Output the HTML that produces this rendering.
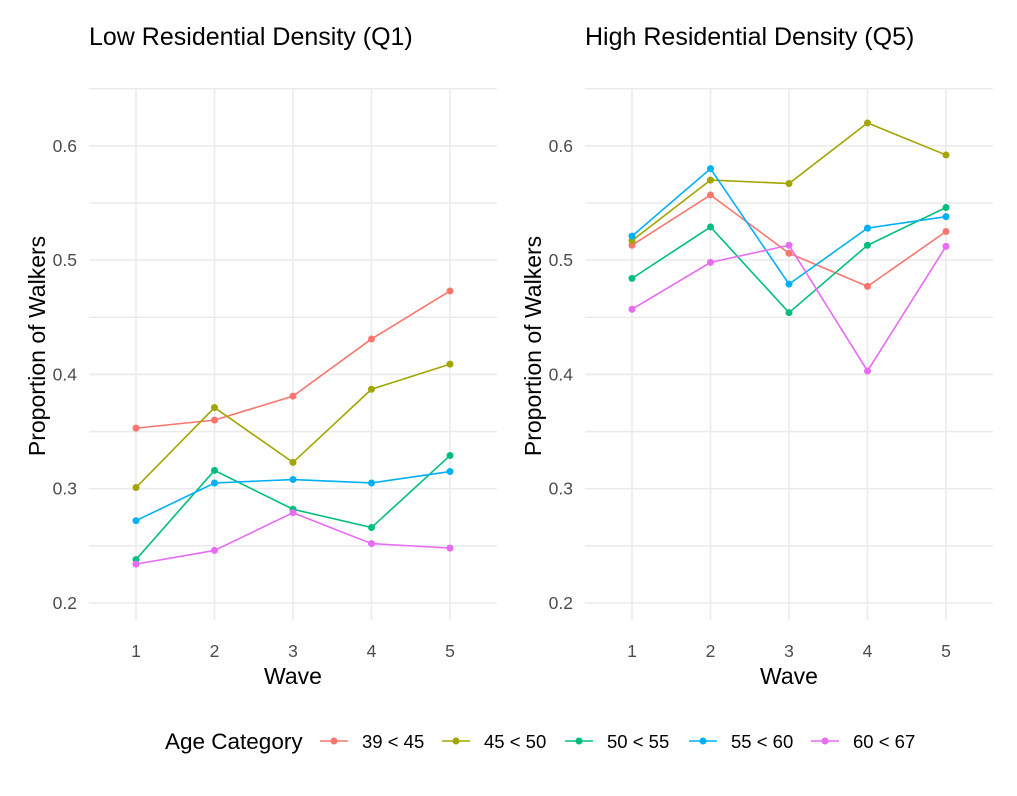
<!DOCTYPE html>
<html><head><meta charset="utf-8"><style>
body{margin:0;background:#fff;font-family:"Liberation Sans",sans-serif}
svg text{font-family:"Liberation Sans",sans-serif}
</style></head><body>
<svg id="c" width="1017" height="791" xmlns="http://www.w3.org/2000/svg"></svg>
<script>
const waves=[1,2,3,4,5];
const groups=["39 < 45","45 < 50","50 < 55","55 < 60","60 < 67"];
const colors=["#F8766D","#A3A500","#00BF7D","#00B0F6","#E76BF3"];
const yTicks=[0.2,0.3,0.4,0.5,0.6];
const lowQ1=[
 [0.353,0.360,0.381,0.431,0.473],
 [0.301,0.371,0.323,0.387,0.409],
 [0.238,0.316,0.282,0.266,0.329],
 [0.272,0.305,0.308,0.305,0.315],
 [0.234,0.246,0.279,0.252,0.248]];
const highQ5=[
 [0.513,0.557,0.506,0.477,0.525],
 [0.517,0.570,0.567,0.620,0.592],
 [0.484,0.529,0.454,0.513,0.546],
 [0.521,0.580,0.479,0.528,0.538],
 [0.457,0.498,0.513,0.403,0.512]];
const svg=document.getElementById('c');
const NS="http://www.w3.org/2000/svg";
function mk(t,a,p){const e=document.createElementNS(NS,t);for(const k in a)e.setAttribute(k,a[k]);(p||svg).appendChild(e);return e;}
const yS=v=>603-(v-0.2)*1143;
function panel(x0,title,data,key){
  const g=mk('g',{});
  
  
  const xS=w=>x0+47+(w-1)*78.5;
  const L=x0, R=x0+408, T=88, B=620;
  for(let k=0;k<=9;k++){const v=0.2+k*0.05;const y=yS(v);if(y>=T-2&&y<=B)mk('line',{x1:L,x2:R,y1:y,y2:y,stroke:'#ebebeb','stroke-width':1.6},g);}
  mk('line',{x1:L,x2:R,y1:yS(0.15)+0,y2:yS(0.15),stroke:'none'},g);
  yTicks.forEach(v=>{const y=yS(v);
    const t=mk('text',{x:x0-12,y:y+6,'text-anchor':'end','font-size':17.5,fill:'#4d4d4d'},g);t.textContent=v.toFixed(1);
    });
  waves.forEach(w=>{const x=xS(w);mk('line',{x1:x,x2:x,y1:T,y2:B,stroke:'#ebebeb','stroke-width':1.6},g);
    const t=mk('text',{x:x,y:657,'text-anchor':'middle','font-size':17.5,fill:'#4d4d4d'},g);t.textContent=w;
    });
  data.forEach((s,i)=>{
    const pts=s.map((v,j)=>xS(waves[j])+','+yS(v)).join(' ');
    const pl=mk('polyline',{points:pts,fill:'none',stroke:colors[i],'stroke-width':1.6},g);
    
    s.forEach((v,j)=>{const c=mk('circle',{cx:xS(waves[j]),cy:yS(v),r:3.5,fill:colors[i]},g);
      });
  });
  const tt=mk('text',{x:x0,y:45,'font-size':25,fill:'#000'},g);tt.textContent=title;
  
  const xt=mk('text',{x:(L+R)/2,y:684,'text-anchor':'middle','font-size':23,fill:'#000'},g);xt.textContent='Wave';
  
  const yt=mk('text',{x:0,y:0,'text-anchor':'middle','font-size':23,fill:'#000',transform:`translate(${x0-44},${(T+B)/2-8}) rotate(-90)`},g);yt.textContent='Proportion of Walkers';
  
}
panel(89,'Low Residential Density (Q1)',lowQ1,'low');
panel(585,'High Residential Density (Q5)',highQ5,'high');
const lg=mk('g',{});


const lt=mk('text',{x:165,y:749,'font-size':22.5,fill:'#000'},lg);lt.textContent='Age Category';
const lx=[320,442,565,689,811];
groups.forEach((gname,i)=>{
  const x=lx[i];
  const e=mk('g',{},lg);
  
  
  mk('line',{x1:x,x2:x+28,y1:741,y2:741,stroke:colors[i],'stroke-width':1.6},e);
  mk('circle',{cx:x+14,cy:741,r:3.5,fill:colors[i]},e);
  const t=mk('text',{x:x+42,y:748,'font-size':18.5,fill:'#000'},e);t.textContent=gname;
});
</script>
</body></html>
